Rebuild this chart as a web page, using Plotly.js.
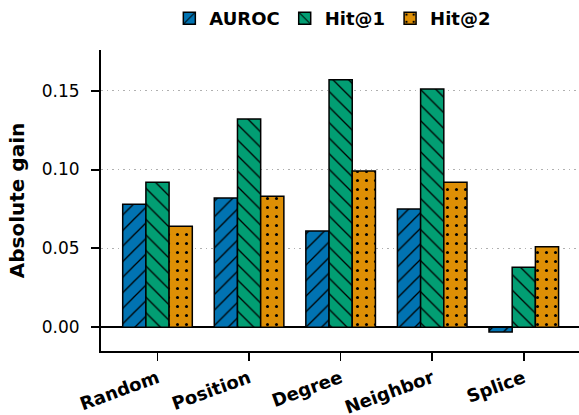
<!DOCTYPE html>
<html>
<head>
<meta charset="utf-8">
<script src="https://cdn.plot.ly/plotly-3.0.1.min.js"></script>
<style>
html,body{margin:0;padding:0;background:#fff;}
#chart{width:579px;height:415px;}
</style>
</head>
<body>
<div id="chart"></div>
<script>
const categories = ['Random', 'Position', 'Degree', 'Neighbor', 'Splice'];
const seriesNames = ['AUROC', 'Hit@1', 'Hit@2'];
const auroc = [0.078, 0.082, 0.061, 0.075, -0.003];
const hit1 = [0.092, 0.132, 0.157, 0.151, 0.038];
const hit2 = [0.064, 0.083, 0.099, 0.092, 0.051];
const yTicks = [0.00, 0.05, 0.10, 0.15];
const yTickLabels = ['0.00', '0.05', '0.10', '0.15'];

const colors = ['#0173b2', '#029e73', '#de8f05'];
const shapes = ['/', '\\', '.'];
const psize = [11, 11, 9];
const psol = [0.12, 0.12, 0.09];
const values = [auroc, hit1, hit2];

const font = 'DejaVu Sans, Verdana, sans-serif';

const traces = values.map((v, i) => ({
  type: 'bar',
  name: seriesNames[i],
  x: categories,
  y: v,
  marker: {
    color: colors[i],
    line: {color: '#000', width: 1.5},
    pattern: {shape: shapes[i], fgcolor: '#000', bgcolor: colors[i], size: psize[i], solidity: psol[i], fillmode: 'replace'}
  },
  hoverinfo: 'skip'
}));

const layout = {
  width: 579,
  height: 415,
  margin: {l: 101, r: 0, t: 48, b: 64},
  paper_bgcolor: '#fff',
  plot_bgcolor: '#fff',
  barmode: 'group',
  bargap: 0.24,
  bargroupgap: 0,
  font: {family: font, color: '#000', size: 17},
  showlegend: true,
  legend: {
    orientation: 'h',
    x: 0.485, xanchor: 'center',
    y: 1.106, yanchor: 'middle',
    font: {family: font, size: 18, weight: 'bold', color: '#000'},
    bgcolor: 'rgba(0,0,0,0)'
  },
  xaxis: {
    type: 'category',
    range: [-0.617, 4.603],
    showline: true, linecolor: '#000', linewidth: 2,
    ticks: 'outside', ticklen: 8, tickwidth: 1.5, tickcolor: '#000',
    tickangle: -20,
    tickfont: {family: font, size: 18, weight: 'bold', color: '#000'},
    showgrid: false, zeroline: false
  },
  yaxis: {
    range: [-0.0151, 0.1758],
    tickvals: yTicks, ticktext: yTickLabels,
    showline: true, linecolor: '#000', linewidth: 2,
    ticks: 'outside', ticklen: 8, tickwidth: 2, tickcolor: '#000',
    ticklabelstandoff: 8,
    tickfont: {family: font, size: 17, color: '#000'},
    showgrid: true, gridcolor: '#b0b0b0', gridwidth: 1.5, griddash: '1.5px,4px',
    zeroline: true, zerolinecolor: '#000', zerolinewidth: 2,
    title: {text: 'Absolute gain', font: {family: font, size: 20, weight: 'bold', color: '#000'}, standoff: 12}
  }
};

Plotly.newPlot('chart', traces, layout, {displayModeBar: false, staticPlot: true});
</script>
</body>
</html>
